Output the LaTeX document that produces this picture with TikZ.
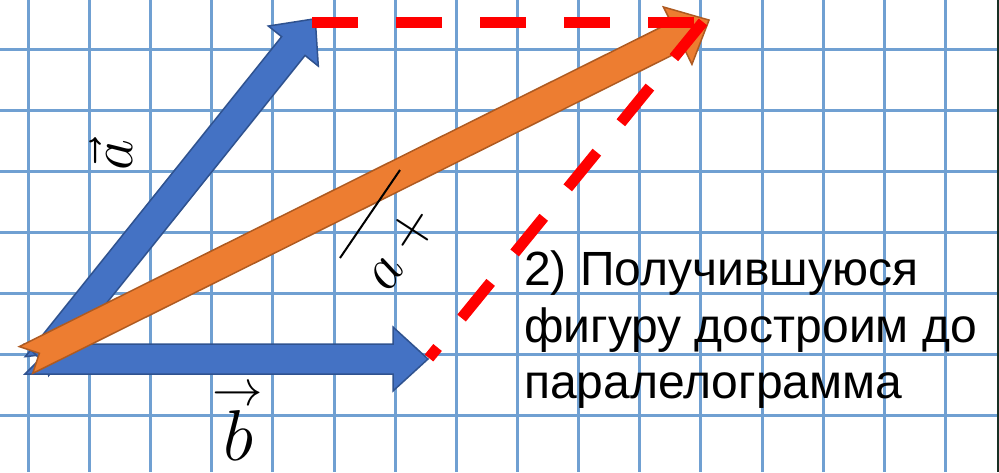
\RequirePackage{fix-cm}
\documentclass[tikz,border=0pt]{standalone}
\usepackage{amsmath}
\usepackage{fontspec}
\newfontfamily\arialfont{Liberation Sans}
\definecolor{gridblue}{RGB}{112,160,210}
\definecolor{arrowblue}{RGB}{68,114,196}
\definecolor{arrowblueline}{RGB}{47,82,143}
\definecolor{arroworange}{RGB}{237,125,49}
\definecolor{arroworangeline}{RGB}{174,90,33}
\definecolor{edgegreen}{RGB}{24,48,36}
\newcommand{\blockarrow}[4]{%
\draw[#1, shift={#2}, rotate=#3] (0,-15) -- ({#4-35},-15) -- ({#4-35},-32) -- (#4,0) -- ({#4-35},32) -- ({#4-35},15) -- (0,15) -- (15,0) -- cycle;}
\tikzset{
  gridline/.style={gridblue, line width=3pt},
  bluearrow/.style={fill=arrowblue, draw=arrowblueline, line width=1.5pt, line join=miter},
  orangearrow/.style={fill=arroworange, draw=arroworangeline, line width=1.5pt, line join=miter},
  reddash/.style={red, line width=11pt, dash pattern=on 46pt off 38pt}
}
\begin{document}
\begin{tikzpicture}[x=1pt,y=-1pt]
\useasboundingbox (0,0) rectangle (999,472);
\fill[white] (0,0) rectangle (999,472);
\foreach \gx in {0,...,15}
  \draw[gridline] ({28.3+61.15*\gx},0) -- ({28.3+61.15*\gx},472);
\foreach \gy in {0,...,6}
  \draw[gridline] (0,{49.3+61*\gy}) -- (999,{49.3+61*\gy});
\fill[edgegreen] (997,0) rectangle (999,472);
\coordinate (Atail) at (37,366);
\coordinate (Btail) at (25,359);
\coordinate (Stail) at (26,360);
\coordinate (Atip) at (312,22);
\coordinate (Stip) at (703,22);
\coordinate (Btip) at (429,358);
\blockarrow{bluearrow}{(Atail)}{51.3}{445}
\blockarrow{bluearrow}{(Btail)}{0}{403}
\blockarrow{orangearrow}{(Stail)}{26.46}{763}
\draw[reddash] (Atip) -- (Stip);
\draw[reddash] (Stip) -- (Btip);
\node[rotate=90, anchor=base, inner sep=0, font=\fontsize{60}{60}\selectfont] (alabel) at (132,155) {$\vec{a}$};
\node[anchor=base, inner sep=0, font=\fontsize{72}{72}\selectfont] (blabel) at (238,460) {$\overset{\rightarrow}{b}$};
\node[rotate=57, anchor=base west, inner sep=0, font=\fontsize{60}{60}\selectfont] (sumlabel) at (389,294) {$a+{}$};
\draw[line width=2pt] (340,258) -- (400,170);
\node[anchor=north west, align=left, inner sep=0, font=\arialfont\fontsize{48}{56.5}\selectfont] (note) at (524,251) {2) Получившуюся\\фигуру достроим до\\паралелограмма};
\end{tikzpicture}
\end{document}
